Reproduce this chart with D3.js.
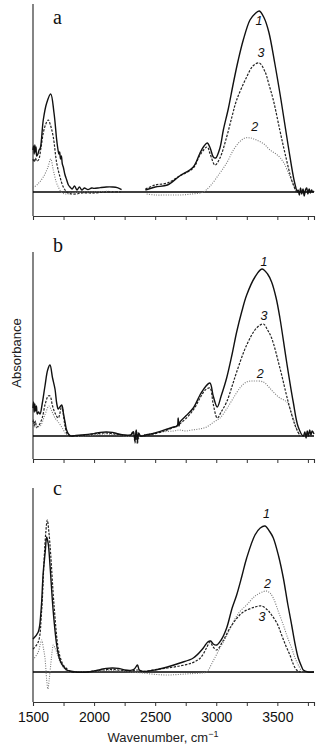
<!DOCTYPE html>
<html><head><meta charset="utf-8">
<script src="https://cdn.jsdelivr.net/npm/d3@7"></script>
<style>body{margin:0;background:#fff}svg{display:block}</style>
</head><body><svg id="c" width="324" height="745"></svg>
<script>
// ---- data: [wavenumber (cm-1), absorbance (a.u.)] ; null = gap in record
const xTicks = [1500,1750,2000,2250,2500,2750,3000,3250,3500,3750];
const xTickLabels = [1500,2000,2500,3000,3500];

const a1 = [[1500,.21],[1505,.23],[1510,.19],[1515,.235],[1520,.20],[1525,.225],[1530,.18],[1540,.19],[1550,.21],[1560,.22],[1584,.36],[1612,.445],[1645,.49],[1672,.395],[1694,.26],[1705,.21],[1712,.19],[1718,.20],[1725,.165],[1732,.18],[1740,.14],[1748,.125],[1760,.09],[1776,.06],[1790,.035],[1803,.025],[1820,.015],[1840,.03],[1860,.01],[1880,.025],[1900,.01],[1920,.02],[1950,.012],[1980,.02],[2000,.018],[2050,.022],[2100,.025],[2150,.025],[2190,.022],[2225,.012],[2300,null],[2420,.01],[2500,.025],[2600,.035],[2700,.08],[2812,.125],[2867,.195],[2900,.23],[2926,.245],[2950,.22],[2976,.175],[2995,.17],[3030,.22],[3058,.31],[3100,.42],[3140,.545],[3180,.66],[3221,.76],[3276,.86],[3315,.89],[3352,.905],[3392,.87],[3430,.80],[3480,.64],[3530,.46],[3589,.23],[3640,.05],[3665,0],[3670,.01],[3680,-.015],[3690,.02],[3700,-.01],[3710,.015],[3720,-.02],[3730,.01],[3740,.02],[3750,-.01],[3760,.015],[3770,-.005],[3780,.01],[3790,0],[3800,.005]];
const a2 = [[1500,.02],[1540,.04],[1584,.075],[1620,.12],[1645,.165],[1666,.11],[1690,.05],[1707,.025],[1730,0],[1748,-.008],[1780,-.01],[1820,-.005],[1900,0],[2000,0],[2100,.003],[2225,0],[2300,null],[2430,-.01],[2500,-.015],[2600,-.015],[2700,-.015],[2800,-.01],[2894,0],[2950,.03],[3030,.095],[3090,.15],[3140,.21],[3190,.25],[3235,.27],[3280,.27],[3330,.26],[3390,.24],[3440,.21],[3500,.185],[3549,.15],[3600,.08],[3630,.04],[3660,0]];
const a3 = [[1500,.165],[1510,.15],[1520,.17],[1530,.155],[1545,.16],[1565,.22],[1584,.295],[1605,.34],[1625,.36],[1645,.33],[1666,.275],[1694,.145],[1721,.075],[1748,.025],[1776,0],[1800,-.008],[1850,-.01],[1900,-.005],[2000,-.005],[2100,0],[2225,0],[2300,null],[2420,.015],[2500,.035],[2600,.045],[2700,.08],[2812,.12],[2867,.185],[2926,.225],[2950,.19],[2990,.135],[3030,.17],[3085,.275],[3130,.38],[3167,.46],[3249,.575],[3300,.63],[3352,.645],[3400,.6],[3430,.54],[3467,.46],[3520,.31],[3562,.195],[3617,.06],[3655,0]];

const b1 = [[1500,.14],[1505,.17],[1510,.12],[1515,.16],[1520,.125],[1528,.15],[1535,.11],[1545,.12],[1557,.11],[1575,.16],[1598,.25],[1620,.33],[1639,.355],[1660,.29],[1680,.235],[1695,.16],[1707,.135],[1720,.145],[1735,.155],[1750,.11],[1762,.07],[1775,.03],[1790,.01],[1810,0],[1850,.003],[1900,.005],[1950,.008],[2000,.012],[2050,.018],[2100,.02],[2150,.018],[2200,.01],[2250,.005],[2300,.005],[2320,.02],[2335,-.02],[2345,.03],[2355,-.025],[2365,.015],[2380,0],[2420,.005],[2500,.015],[2600,.035],[2650,.045],[2680,.05],[2688,.09],[2695,.05],[2703,.07],[2750,.10],[2812,.14],[2867,.205],[2910,.245],[2948,.265],[2975,.20],[3008,.145],[3040,.20],[3085,.29],[3130,.41],[3167,.52],[3210,.625],[3249,.705],[3317,.795],[3374,.835],[3420,.81],[3453,.77],[3490,.69],[3521,.59],[3576,.37],[3630,.17],[3671,.045],[3712,0],[3725,.02],[3735,-.01],[3745,.025],[3755,0],[3765,.03],[3775,.005],[3785,.025],[3800,.01]];
const b2 = [[1500,.05],[1510,.06],[1520,.04],[1540,.045],[1560,.05],[1600,.11],[1630,.15],[1650,.13],[1680,.09],[1707,.07],[1740,.04],[1770,.01],[1800,0],[1900,0],[2000,.005],[2100,.01],[2200,.005],[2300,0],[2320,.015],[2335,-.03],[2350,.02],[2360,-.015],[2380,0],[2450,.01],[2550,.02],[2650,.025],[2700,.03],[2750,.025],[2800,.03],[2860,.035],[2921,.045],[2980,.07],[3030,.09],[3090,.14],[3140,.19],[3200,.245],[3249,.27],[3300,.275],[3385,.27],[3430,.245],[3467,.22],[3520,.19],[3576,.17],[3630,.09],[3671,.015],[3700,0]];
const b3 = [[1500,.07],[1505,.08],[1510,.05],[1520,.075],[1530,.045],[1545,.05],[1575,.09],[1600,.16],[1625,.20],[1639,.20],[1660,.15],[1680,.115],[1707,.09],[1735,.15],[1750,.10],[1762,.05],[1780,.01],[1800,0],[1900,.003],[2000,.01],[2100,.015],[2200,.008],[2300,.005],[2320,.025],[2335,-.035],[2345,.025],[2355,-.04],[2365,.01],[2380,0],[2500,.012],[2600,.03],[2700,.06],[2812,.13],[2867,.19],[2910,.23],[2948,.24],[2975,.16],[3008,.09],[3040,.12],[3085,.17],[3130,.25],[3167,.32],[3249,.455],[3330,.54],[3385,.56],[3420,.53],[3453,.49],[3521,.34],[3589,.17],[3644,.055],[3685,0]];

const c1 = [[1500,.165],[1543,.20],[1565,.30],[1584,.50],[1600,.60],[1612,.675],[1625,.64],[1639,.535],[1666,.30],[1694,.135],[1715,.07],[1735,.04],[1760,.02],[1776,.01],[1800,.005],[1850,0],[1950,0],[2000,.005],[2050,.012],[2100,.018],[2150,.02],[2200,.018],[2250,.01],[2300,.008],[2330,.015],[2355,.035],[2370,.01],[2400,.003],[2500,.01],[2600,.025],[2703,.045],[2812,.07],[2894,.12],[2930,.15],[2954,.155],[2975,.14],[3003,.135],[3040,.16],[3085,.22],[3130,.32],[3167,.385],[3210,.48],[3249,.57],[3317,.685],[3360,.72],[3399,.73],[3440,.70],[3467,.67],[3510,.58],[3549,.47],[3585,.34],[3617,.235],[3645,.14],[3671,.07],[3700,.025],[3712,.01],[3750,0],[3800,0]];
const c2 = [[1500,.06],[1543,.10],[1560,.14],[1571,.16],[1585,.12],[1598,.07],[1612,-.04],[1622,-.085],[1632,-.04],[1645,.035],[1658,.11],[1666,.135],[1680,.12],[1694,.10],[1715,.06],[1735,.035],[1760,.015],[1790,.005],[1820,0],[2000,.003],[2100,.008],[2200,.006],[2300,0],[2400,-.005],[2500,-.012],[2600,-.015],[2700,-.012],[2800,-.008],[2880,-.005],[2921,0],[2970,.05],[3030,.12],[3085,.18],[3140,.25],[3190,.30],[3249,.335],[3300,.37],[3330,.385],[3407,.405],[3440,.395],[3467,.37],[3510,.30],[3549,.235],[3585,.17],[3617,.12],[3645,.07],[3671,.035],[3700,0]];
const c3 = [[1500,.115],[1543,.15],[1570,.30],[1590,.55],[1605,.70],[1617,.76],[1630,.70],[1645,.585],[1672,.335],[1707,.115],[1730,.06],[1748,.035],[1789,.01],[1820,0],[1900,-.002],[2000,.005],[2100,.012],[2150,.013],[2200,.01],[2300,.005],[2355,.01],[2400,.003],[2500,.012],[2600,.02],[2700,.03],[2800,.045],[2870,.07],[2920,.12],[2948,.15],[2975,.125],[3003,.11],[3050,.15],[3112,.22],[3170,.27],[3221,.30],[3317,.325],[3371,.33],[3420,.31],[3453,.285],[3500,.24],[3535,.185],[3570,.13],[3603,.085],[3630,.04],[3658,.01],[3690,0]];

const panelLetters = ["a","b","c"];
const curveNames = ["1","2","3"];
// label anchor points [wavenumber, absorbance] for curve numbers (1,2,3) per panel
const labelPos = [
  [[3350,.835],[3315,.305],[3365,.675]],
  [[3390,.85],[3360,.29],[3390,.58]],
  [[3410,.77],[3420,.42],[3375,.255]]
];

// ---- layout
const panels = [
  {series:[a1,a2,a3], top:4,   bottom:216, yDom:[-0.12,0.94]},
  {series:[b1,b2,b3], top:252, bottom:459, yDom:[-0.115,0.92]},
  {series:[c1,c2,c3], top:488, bottom:702, yDom:[-0.15,0.92]}
];
const svg = d3.select("#c");
const x = d3.scaleLinear().domain([1500,3800]).range([33,314]);
const styles = [
  {stroke:"#111", width:1.4, dash:null},
  {stroke:"#7a7a7a", width:1.1, dash:"1,1.4"},
  {stroke:"#222", width:1.2, dash:"2.4,1.4"}
];

panels.forEach((p,i)=>{
  const y = d3.scaleLinear().domain(p.yDom).range([p.bottom,p.top]);
  const g = svg.append("g");
  // y axis line (no ticks)
  g.append("line").attr("x1",x(1500)).attr("x2",x(1500)).attr("y1",p.top).attr("y2",p.bottom)
    .attr("stroke","#333").attr("stroke-width",1.2);
  // bottom axis
  const ax = d3.axisBottom(x).tickValues(xTicks).tickSize(4).tickPadding(6)
    .tickFormat(d => (i===2 && xTickLabels.includes(d)) ? d : "");
  const axg = g.append("g").attr("transform",`translate(0,${p.bottom})`).call(ax);
  axg.select(".domain").attr("stroke","#333").attr("stroke-width",1.1);
  axg.selectAll(".tick line").attr("stroke","#333");
  axg.selectAll("text").attr("font-family","Liberation Sans, Arial, sans-serif").attr("font-size",14).attr("fill","#111");
  // zero line
  g.append("line").attr("x1",x(1500)).attr("x2",x(3800)).attr("y1",y(0)).attr("y2",y(0))
    .attr("stroke","#000").attr("stroke-width",1.6);
  // curves (draw 2, 3, then 1 on top)
  [1,2,0].forEach(k=>{
    const line = d3.line().defined(d=>d[1]!==null).x(d=>x(d[0])).y(d=>y(d[1]))
      .curve(d3.curveCatmullRom.alpha(0.5));
    const s = styles[k];
    g.append("path").datum(p.series[k]).attr("d",line).attr("fill","none")
      .attr("stroke",s.stroke).attr("stroke-width",s.width)
      .attr("stroke-dasharray",s.dash).attr("stroke-linejoin","round");
  });
  // curve numbers
  labelPos[i].forEach((lp,k)=>{
    g.append("text").attr("x",x(lp[0])).attr("y",y(lp[1])).attr("text-anchor","middle")
      .attr("font-family","Liberation Sans, Arial, sans-serif").attr("font-style","italic")
      .attr("font-size",12.5).attr("fill","#111").text(curveNames[k]);
  });
  // panel letter
  g.append("text").attr("x",53).attr("y",[24,252,495][i])
    .attr("font-family","Liberation Serif, Times New Roman, serif").attr("font-size",20)
    .attr("fill","#111").text(panelLetters[i]);
});

// axis titles
svg.append("text").attr("transform","translate(21,353) rotate(-90)").attr("text-anchor","middle")
  .attr("font-family","Liberation Sans, Arial, sans-serif").attr("font-size",13).attr("fill","#222")
  .text("Absorbance");
const xt = svg.append("text").attr("x",163).attr("y",742).attr("text-anchor","middle")
  .attr("font-family","Liberation Sans, Arial, sans-serif").attr("font-size",13).attr("fill","#222");
xt.append("tspan").text("Wavenumber, cm");
xt.append("tspan").attr("font-size",9).attr("dy",-5).text("\u22121");
</script></body></html>
